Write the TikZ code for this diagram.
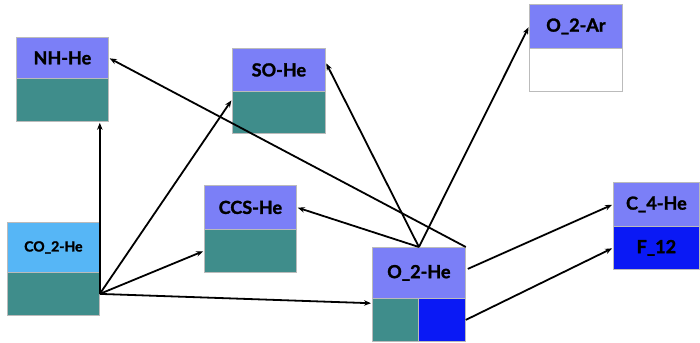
\documentclass[tikz,border=0pt]{standalone}
\usepackage{fontspec}
\setmainfont{Lato}[BoldFeatures={FakeBold=1.6}]
\usetikzlibrary{calc,arrows.meta}
\definecolor{peri}{HTML}{7B7FF7}
\definecolor{tealc}{HTML}{3F8D8B}
\definecolor{lblue}{HTML}{56B6F6}
\definecolor{dblue}{HTML}{0A19F5}
\definecolor{edge}{HTML}{BBBBBB}
\tikzset{
  cell/.style={draw=edge, line width=0.8pt, rectangle, inner sep=0pt, anchor=north west, font=\bfseries\fontsize{18}{20}\selectfont},
  conn/.style={line width=1.8pt, -{Stealth[length=7pt,width=5.5pt]}, shorten >=1pt}
}
\begin{document}
\begin{tikzpicture}[x=1pt,y=-1pt]
\useasboundingbox (0,0) rectangle (700,342);
% NH-He
\node[cell, fill=peri, minimum width=92pt, minimum height=41pt] (nh) at (16,37) {NH-He};
\node[cell, fill=tealc, minimum width=92pt, minimum height=43pt] (nhb) at (16,78) {};
% SO-He
\node[cell, fill=peri, minimum width=93pt, minimum height=43pt] (so) at (232,48) {SO-He};
\node[cell, fill=tealc, minimum width=93pt, minimum height=42pt] (sob) at (232,91) {};
% O_2-Ar
\node[cell, fill=peri, minimum width=93pt, minimum height=44pt] (ar) at (529,4) {O\_2-Ar};
\node[cell, fill=white, minimum width=93pt, minimum height=43pt] (arb) at (529,48) {};
% CO_2-He
\node[cell, fill=lblue, minimum width=92pt, minimum height=50pt, font=\bfseries\fontsize{14}{16}\selectfont] (co) at (7,222) {CO\_2-He};
\node[cell, fill=tealc, minimum width=92pt, minimum height=43pt] (cob) at (7,272) {};
% CCS-He
\node[cell, fill=peri, minimum width=92pt, minimum height=44pt] (ccs) at (204,185) {CCS-He};
\node[cell, fill=tealc, minimum width=92pt, minimum height=43pt] (ccsb) at (204,229) {};
% O_2-He
\node[cell, fill=peri, minimum width=93pt, minimum height=51pt] (o2) at (372,247) {O\_2-He};
\node[cell, fill=tealc, minimum width=46pt, minimum height=43pt] (o2l) at (372,298) {};
\node[cell, fill=dblue, minimum width=47pt, minimum height=43pt] (o2r) at (418,298) {};
% C_4-He
\node[cell, fill=peri, minimum width=86pt, minimum height=44pt] (c4) at (613,182) {C\_4-He};
\node[cell, fill=dblue, minimum width=86pt, minimum height=43pt] (c4b) at (613,226) {F\_12};
% connectors from CO_2-He
\draw[conn] (cob.east) -- (cob.east |- nhb.south);
\draw[conn] (cob.east) -- ($(sob.north west)!0.2!(sob.south west)$);
\draw[conn] (cob.east) -- (ccsb.west);
\draw[conn] (cob.east) -- ($(o2l.north west)!0.12!(o2l.south west)$);
% connectors from O_2-He
\draw[conn] (o2.north east) -- (nh.east);
\draw[conn] (o2.north) -- ($(so.north east)!0.33!(so.south east)$);
\draw[conn] (o2.north) -- (ccs.east);
\draw[conn] (o2.north) -- (ar.west);
\draw[conn] ($(o2.east)+(2,-4)$) -- (c4.west);
\draw[conn] (o2r.east) -- (c4b.west);
\end{tikzpicture}
\end{document}
